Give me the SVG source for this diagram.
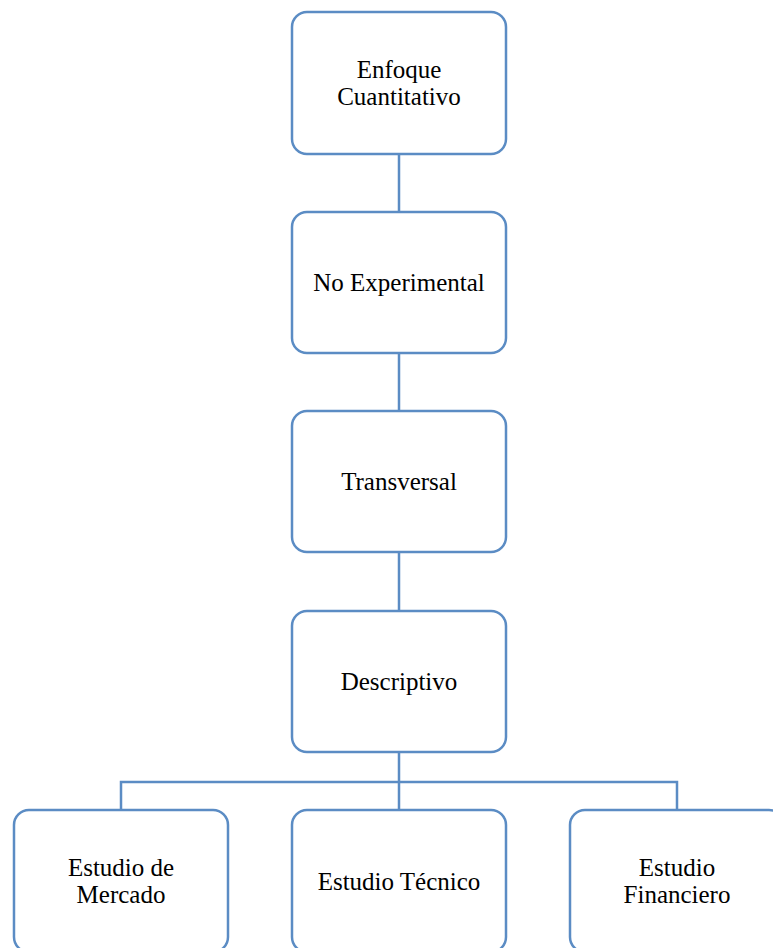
<svg xmlns="http://www.w3.org/2000/svg" width="773" height="948" viewBox="0 0 773 948">
<style>
.box{fill:#fff;stroke:#5b8cc4;stroke-width:2.5}
.ln{fill:none;stroke:#5b8cc4;stroke-width:2.5}
text{font-family:"Liberation Serif","Times New Roman",serif;font-size:25px;fill:#000;text-anchor:middle}
</style>
<rect width="773" height="948" fill="#fff"/>
<g id="connectors">
<path class="ln" d="M399 154V212M399 353V411M399 552V611M399 752V810M121 810V782H677V810"/>
</g>
<g id="n1"><rect class="box" x="292" y="12" width="214" height="142" rx="15"/><text x="399" y="78">Enfoque</text><text x="399" y="105">Cuantitativo</text></g>
<g id="n2"><rect class="box" x="292" y="212" width="214" height="141" rx="15"/><text x="399" y="291">No Experimental</text></g>
<g id="n3"><rect class="box" x="292" y="411" width="214" height="141" rx="15"/><text x="399" y="490">Transversal</text></g>
<g id="n4"><rect class="box" x="292" y="611" width="214" height="141" rx="15"/><text x="399" y="690">Descriptivo</text></g>
<g id="n5"><rect class="box" x="14" y="810" width="214" height="142" rx="15"/><text x="121" y="876">Estudio de</text><text x="121" y="903">Mercado</text></g>
<g id="n6"><rect class="box" x="292" y="810" width="214" height="142" rx="15"/><text x="399" y="890">Estudio Técnico</text></g>
<g id="n7"><rect class="box" x="570" y="810" width="214" height="142" rx="15"/><text x="677" y="876">Estudio</text><text x="677" y="903">Financiero</text></g>
</svg>
